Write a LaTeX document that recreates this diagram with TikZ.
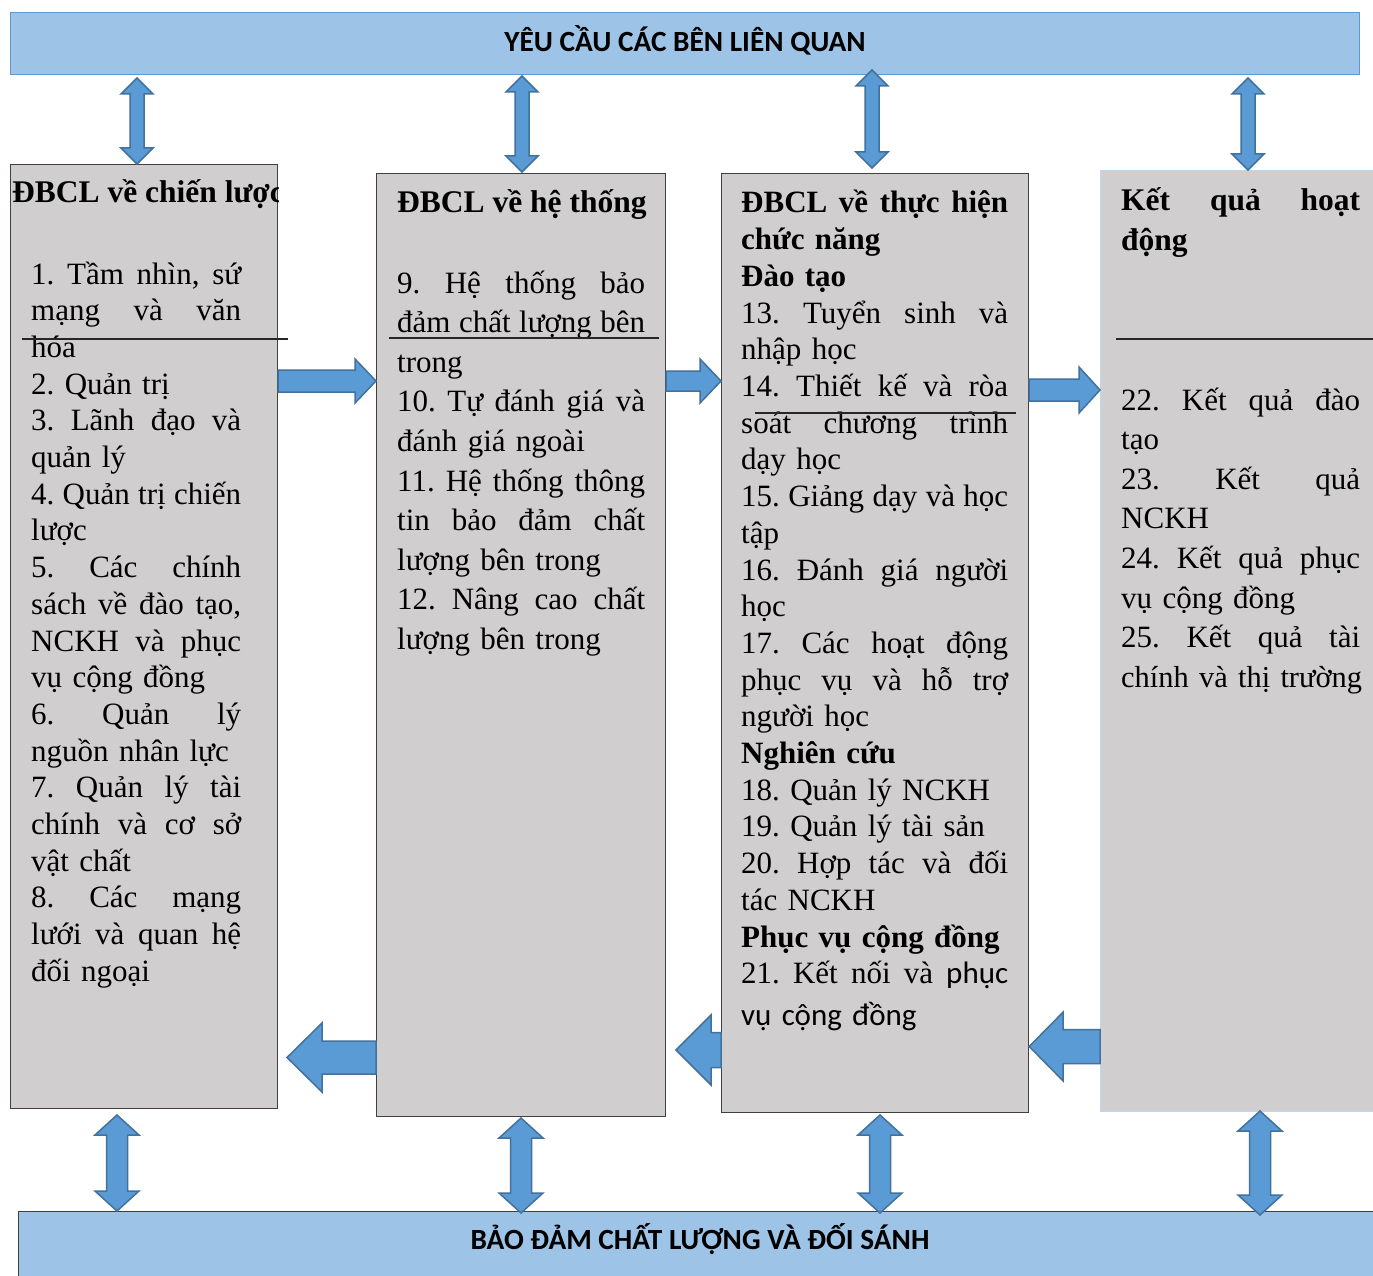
\documentclass[tikz,border=0pt]{standalone}
\usepackage{fontspec}
\setmainfont{Liberation Serif}
\newfontfamily\calfont{Carlito}
\usetikzlibrary{calc}
\frenchspacing
\definecolor{barblue}{HTML}{9DC3E6}
\definecolor{boxgray}{HTML}{D0CECE}
\definecolor{arrfill}{HTML}{5B9BD5}
\definecolor{arrline}{HTML}{41719C}
\definecolor{edgeblue}{HTML}{BDD7EE}
\definecolor{bordergray}{HTML}{404040}
\newcommand\J[2]{\makebox[#1][l]{#2}}
% single block arrow: start, end, half shaft, half head, head length
\newcommand\sarrow[5]{%
  \coordinate (tmpc) at ($(#2)!#5!(#1)$);
  \filldraw[blockarrow] ($(#1)!#3!90:(#2)$) -- ($(tmpc)!#3!90:(#2)$) -- ($(tmpc)!#4!90:(#2)$) -- (#2)
    -- ($(tmpc)!#4!-90:(#2)$) -- ($(tmpc)!#3!-90:(#2)$) -- ($(#1)!#3!-90:(#2)$) -- cycle;}
% double block arrow
\newcommand\darrow[5]{%
  \coordinate (tmpa) at ($(#1)!#5!(#2)$);
  \coordinate (tmpb) at ($(#2)!#5!(#1)$);
  \filldraw[blockarrow] (#1) -- ($(tmpa)!#4!90:(#2)$) -- ($(tmpa)!#3!90:(#2)$) -- ($(tmpb)!#3!90:(#2)$)
    -- ($(tmpb)!#4!90:(#2)$) -- (#2) -- ($(tmpb)!#4!-90:(#2)$) -- ($(tmpb)!#3!-90:(#2)$)
    -- ($(tmpa)!#3!-90:(#2)$) -- ($(tmpa)!#4!-90:(#2)$) -- cycle;}
\tikzset{
  bar/.style={rectangle, fill=barblue, inner sep=0pt, anchor=north west},
  bartext/.style={inner sep=0pt, font=\calfont\bfseries\fontsize{29.3}{33}\selectfont},
  colbox/.style={rectangle, fill=boxgray, draw=bordergray, line width=1.2pt, inner sep=0pt, anchor=north west},
  blockarrow/.style={fill=arrfill, draw=arrline, line width=1.5pt, line join=miter},
  txt/.style={inner sep=0pt, anchor=base west, align=left, font=\fontsize{31}{36.7}\selectfont},
  txtw/.style={inner sep=0pt, anchor=base west, align=left, font=\fontsize{31}{39.6}\selectfont},
  strayline/.style={draw=black!85, line width=1.2pt}
}
\begin{document}
\begin{tikzpicture}[x=1pt,y=-1pt]
\useasboundingbox (0,0) rectangle (1373,1276);
\fill[white] (0,0) rectangle (1373,1276);

% bars
\node[bar, draw=arrfill, line width=1.3pt, minimum width=1349pt, minimum height=62pt] (top) at (10,12) {};
\node[bartext] (toptxt) at (685,40) {YÊU CẦU CÁC BÊN LIÊN QUAN};
\node[bar, draw=bordergray, line width=1.2pt, minimum width=1370pt, minimum height=72pt] (bottom) at (18,1211) {};
\node[bartext] (bottomtxt) at (700,1239) {BẢO ĐẢM CHẤT LƯỢNG VÀ ĐỐI SÁNH};

% column boxes
\node[colbox, minimum width=267pt, minimum height=944pt] (b1) at (10,164) {};
\node[colbox, minimum width=289pt, minimum height=943pt] (b2) at (376,173) {};
\node[colbox, minimum width=307pt, minimum height=939pt] (b3) at (721,173) {};
\node[colbox, draw=edgeblue, line width=1pt, minimum width=290pt, minimum height=941pt] (b4) at (1100,170) {};

% column 1
\begin{scope}
\clip (b1.north west) rectangle (b1.south east);
\node[txt, font=\bfseries\fontsize{31.5}{36.7}\selectfont] (h1) at (12,203) {ĐBCL về chiến lược};
\end{scope}
\node[txt, text width=240pt] (t1) at (31,284) {%
\J{210pt}{1.\hfill Tầm\hfill nhìn,\hfill sứ}\\
\J{210pt}{mạng\hfill và\hfill văn}\\
hóa\\
2. Quản trị\\
\J{210pt}{3.\hfill Lãnh\hfill đạo\hfill và}\\
quản lý\\
\J{210pt}{4.\hfill Quản\hfill trị\hfill chiến}\\
lược\\
\J{210pt}{5.\hfill Các\hfill chính}\\
\J{210pt}{sách\hfill về\hfill đào\hfill tạo,}\\
\J{210pt}{NCKH\hfill và\hfill phục}\\
vụ cộng đồng\\
\J{210pt}{6.\hfill Quản\hfill lý}\\
nguồn nhân lực\\
\J{210pt}{7.\hfill Quản\hfill lý\hfill tài}\\
\J{210pt}{chính\hfill và\hfill cơ\hfill sở}\\
vật chất\\
\J{210pt}{8.\hfill Các\hfill mạng}\\
\J{210pt}{lưới\hfill và\hfill quan\hfill hệ}\\
đối ngoại};

% column 2
\node[txt, font=\bfseries\fontsize{31.5}{36.7}\selectfont] (h2) at (397,213) {ĐBCL về hệ thống};
\node[txtw, text width=270pt] (t2) at (397,293) {%
\J{248pt}{9.\hfill Hệ\hfill thống\hfill bảo}\\
\J{248pt}{đảm\hfill chất\hfill lượng\hfill bên}\\
trong\\
\J{248pt}{10.\hfill Tự\hfill đánh\hfill giá\hfill và}\\
đánh giá ngoài\\
\J{248pt}{11.\hfill Hệ\hfill thống\hfill thông}\\
\J{248pt}{tin\hfill bảo\hfill đảm\hfill chất}\\
lượng bên trong\\
\J{248pt}{12.\hfill Nâng\hfill cao\hfill chất}\\
lượng bên trong};

% column 3
\node[txt, text width=290pt] (t3) at (741,213) {%
\J{267pt}{\bfseries ĐBCL\hfill về\hfill thực\hfill hiện}\\
\textbf{chức năng}\\
\textbf{Đào tạo}\\
\J{267pt}{13.\hfill Tuyển\hfill sinh\hfill và}\\
nhập học\\
\J{267pt}{14.\hfill Thiết\hfill kế\hfill và\hfill ròa}\\
\J{267pt}{soát\hfill chương\hfill trình}\\
dạy học\\
\J{267pt}{15.\hfill Giảng\hfill dạy\hfill và\hfill học}\\
tập\\
\J{267pt}{16.\hfill Đánh\hfill giá\hfill người}\\
học\\
\J{267pt}{17.\hfill Các\hfill hoạt\hfill động}\\
\J{267pt}{phục\hfill vụ\hfill và\hfill hỗ\hfill trợ}\\
người học\\
\textbf{Nghiên cứu}\\
18. Quản lý NCKH\\
19. Quản lý tài sản\\
\J{267pt}{20.\hfill Hợp\hfill tác\hfill và\hfill đối}\\
tác NCKH\\
\textbf{Phục vụ cộng đồng}\\
\J{267pt}{21.\hfill Kết\hfill nối\hfill và\hfill {\calfont phục}}\\[5pt]
{\calfont vụ cộng đồng}};

% column 4
\node[txt, text width=270pt, font=\bfseries\fontsize{31.5}{40}\selectfont] (h4) at (1121,211) {%
\J{239pt}{Kết\hfill quả\hfill hoạt}\\
động};
\node[txtw, text width=270pt] (t4) at (1121,410) {%
\J{239pt}{22.\hfill Kết\hfill quả\hfill đào}\\
tạo\\
\J{239pt}{23.\hfill Kết\hfill quả}\\
NCKH\\
\J{239pt}{24.\hfill Kết\hfill quả\hfill phục}\\
vụ cộng đồng\\
\J{239pt}{25.\hfill Kết\hfill quả\hfill tài}\\
{\fontsize{30.4}{39.6}\selectfont chính và thị trường}};

% stray rules
\draw[strayline] (22,339) -- (288,339);
\draw[strayline] (389,338) -- (659,338);
\draw[strayline] (755,413) -- (1016,413);
\draw[strayline] (1116,339) -- (1380,339);

% top double arrows
\path (137,78) coordinate (ua1) (b1.north -| ua1) coordinate (ub1);
\path (522,76) coordinate (ua2) (522,172) coordinate (ub2);
\path (872,70) coordinate (ua3) (872,168) coordinate (ub3);
\path (1248,78) coordinate (ua4) (b4.north -| ua4) coordinate (ub4);
\darrow{ua1}{ub1}{7pt}{16pt}{16pt}
\darrow{ua2}{ub2}{7pt}{16pt}{16pt}
\darrow{ua3}{ub3}{7pt}{16pt}{16pt}
\darrow{ua4}{ub4}{7pt}{16pt}{16pt}

% bottom double arrows
\path (117,1115) coordinate (la1) (117,1211) coordinate (lb1);
\path (521,1118) coordinate (la2) (521,1213) coordinate (lb2);
\path (880,1115) coordinate (la3) (880,1213) coordinate (lb3);
\path (1260,1111) coordinate (la4) (1260,1215) coordinate (lb4);
\darrow{la1}{lb1}{10.5pt}{22pt}{20pt}
\darrow{la2}{lb2}{10.5pt}{22pt}{20pt}
\darrow{la3}{lb3}{10.5pt}{22pt}{20pt}
\darrow{la4}{lb4}{10.5pt}{22pt}{20pt}

% rightward arrows
\path (278,381) coordinate (r1s) (b2.west |- r1s) coordinate (r1e);
\path (b2.east |- 0,381) coordinate (r2s) (b3.west |- r2s) coordinate (r2e);
\path (b3.east |- 0,390) coordinate (r3s) (b4.west |- r3s) coordinate (r3e);
\sarrow{r1s}{r1e}{11pt}{22pt}{21pt}
\sarrow{r2s}{r2e}{10pt}{22pt}{21pt}
\sarrow{r3s}{r3e}{11pt}{23pt}{21pt}

% leftward arrows
\path (b2.west |- 0,1057.5) coordinate (l1s) (287,1057.5) coordinate (l1e);
\path (b3.west |- 0,1050) coordinate (l2s) (676,1050) coordinate (l2e);
\path (b4.west |- 0,1046.5) coordinate (l3s) (b3.east |- l3s) coordinate (l3e);
\sarrow{l1s}{l1e}{16.5pt}{34.5pt}{35pt}
\sarrow{l2s}{l2e}{17.5pt}{35pt}{35pt}
\sarrow{l3s}{l3e}{17pt}{34.5pt}{34pt}
\end{tikzpicture}
\end{document}
